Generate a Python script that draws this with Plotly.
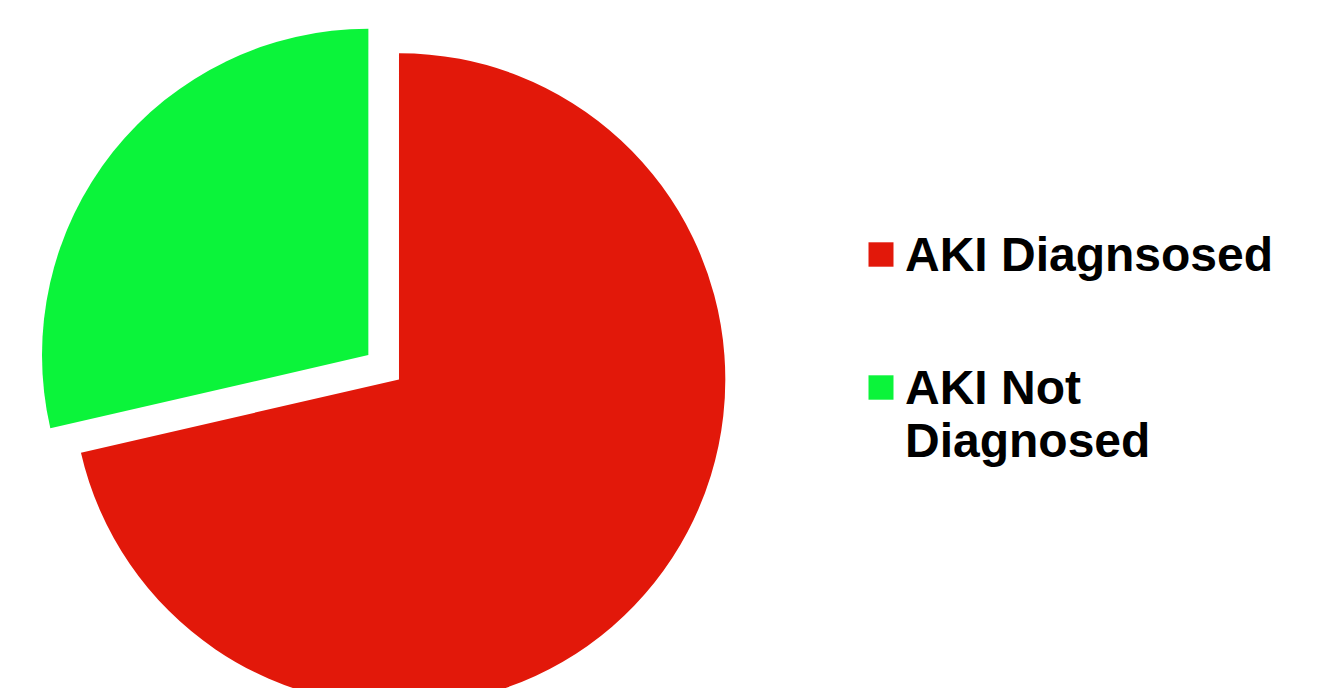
import plotly.graph_objects as go

# Slice data
labels = ["AKI Diagnsosed", "AKI Not Diagnosed"]
values = [71.4, 28.6]
colors = ["#E2180A", "#0BF43A"]
pull = [0, 0.12]

# Legend text, wrapped line by line
legend_lines = [["AKI Diagnsosed"], ["AKI Not", "Diagnosed"]]

W, H = 1317, 745
M_TOP = 14
PLOT_H = H - M_TOP


def fx(px):
    return px / W


def fy(py):
    return 1 - (py - M_TOP) / PLOT_H


fig = go.Figure(
    go.Pie(
        labels=labels,
        values=values,
        marker=dict(colors=colors, line=dict(width=0)),
        pull=pull,
        sort=False,
        direction="clockwise",
        rotation=0,
        textinfo="none",
        showlegend=False,
        domain=dict(x=[0, 0.6059], y=[0, 1]),
    )
)

# Custom legend: large square swatches with bold labels
row_centers = [254.5, 387.5]
line_gap = 52.7
font_size = 48
shapes = []
annotations = []
for color, lines, yc in zip(colors, legend_lines, row_centers):
    shapes.append(dict(
        type="rect", xref="paper", yref="paper",
        x0=fx(868.5), x1=fx(893.5), y0=fy(yc - 12.2), y1=fy(yc + 12.2),
        fillcolor=color, line=dict(width=0), layer="above",
    ))
    for j, line in enumerate(lines):
        annotations.append(dict(
            text=f"<b>{line}</b>", xref="paper", yref="paper",
            x=fx(903), y=fy(yc + j * line_gap),
            xanchor="left", yanchor="middle", showarrow=False,
            font=dict(family="Liberation Sans, Arial, sans-serif", size=font_size, color="#000000"),
        ))

fig.update_layout(
    width=W,
    height=H,
    margin=dict(l=0, r=0, t=M_TOP, b=0),
    paper_bgcolor="#FFFFFF",
    plot_bgcolor="#FFFFFF",
    shapes=shapes,
    annotations=annotations,
    showlegend=False,
)

fig.write_html(
    "out.html",
    config={"displayModeBar": False},
    post_script="document.body.style.overflow='hidden';",
)
